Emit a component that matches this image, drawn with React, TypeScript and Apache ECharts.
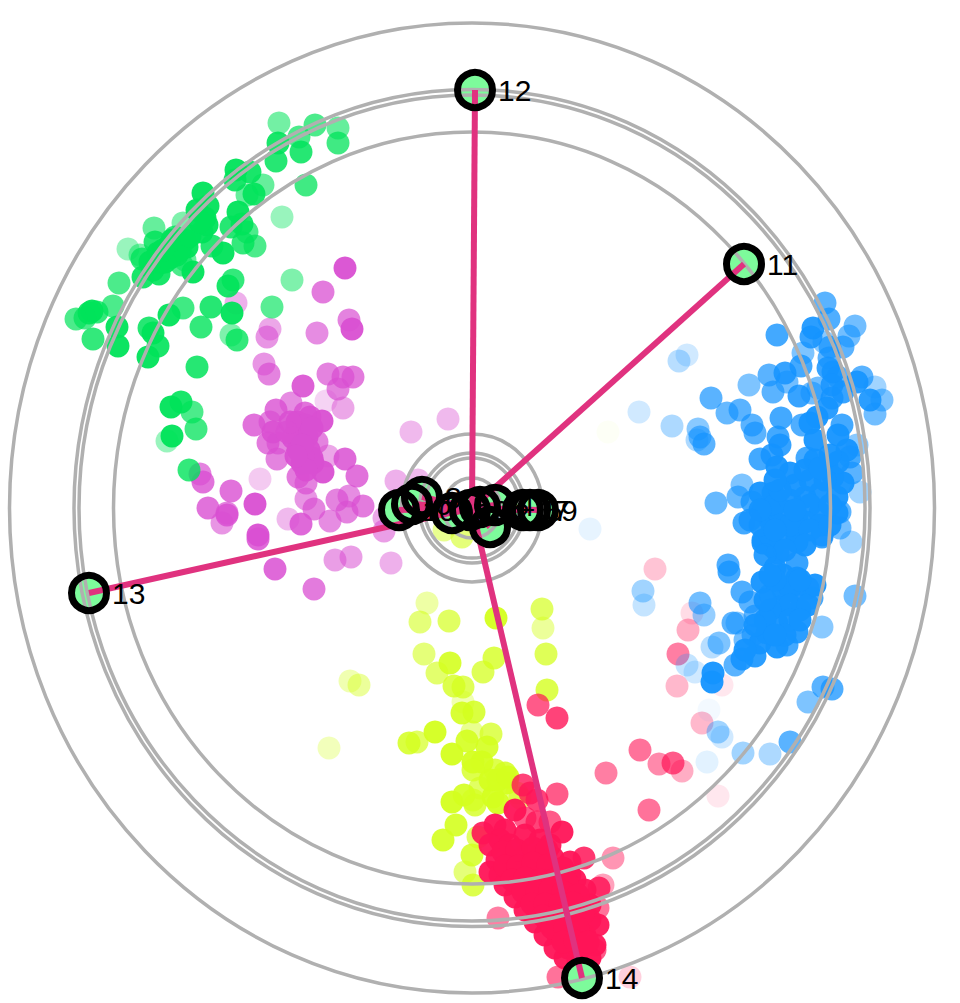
import React, { useEffect, useRef } from "react";
import * as echarts from "echarts";

type P = [number, number, number];

const greenPoints: P[] = [
[279,123,.55],[315,125,.7],[338,128,.6],[338,143,.75],[278,143,.9],[299,137,.7],[301,152,.85],[276,161,.85],[236,170,.95],[250,172,.9],[235,180,.9],[263,185,.6],[254,194,.9],[247,195,.6],[306,185,.75],[282,217,.4],[203,193,.95],[208,206,.95],[197,210,.95],[238,212,.95],[207,225,.95],[202,232,.95],[242,224,.9],[231,227,.85],[247,232,.7],[243,243,.8],[255,246,.7],[212,246,.85],[223,253,.95],[183,223,.5],[154,228,.6],[175,237,.8],[185,240,.95],[155,242,.85],[168,247,.95],[187,247,.95],[128,249,.4],[140,255,.5],[142,259,.8],[158,253,.95],[177,255,.9],[185,260,.6],[160,263,.95],[193,272,.95],[182,265,.7],[143,277,.9],[159,274,.9],[153,270,.95],[119,283,.7],[233,280,.8],[228,286,.9],[211,307,.85],[183,308,.75],[169,315,.95],[113,306,.7],[92,311,.95],[97,312,.8],[89,313,.9],[76,319,.7],[85,318,.7],[93,339,.8],[117,327,.95],[118,346,.95],[149,328,.85],[153,333,.95],[158,346,.9],[148,357,.95],[232,313,.95],[201,327,.8],[231,335,.5],[237,340,.8],[272,307,.65],[292,280,.5],[197,367,.85],[181,402,.9],[171,407,.95],[192,412,.7],[196,429,.75],[172,436,.95],[167,441,.4],[189,470,.8],
[178,246,.95],[170,258,.95],[180,250,.95],[165,262,.95],[205,218,.95],[172,240,.95],[163,250,.95],[150,262,.95],[190,236,.95],[200,222,.95],
];

const magentaPoints: P[] = [
[345,268,.95],[323,292,.75],[236,303,.45],[270,329,.5],[267,337,.6],[317,333,.65],[349,320,.7],[352,329,.95],[264,364,.6],[269,374,.7],[328,374,.7],[343,377,.75],[353,377,.75],[338,389,.7],[303,386,.9],[326,401,.25],[343,408,.5],[291,403,.65],[276,410,.8],[254,425,.8],[270,422,.7],[310,417,.9],[322,421,.95],[297,422,.95],[305,413,.8],[273,432,.9],[268,443,.75],[278,443,.7],[277,459,.7],[297,430,.95],[307,437,.95],[317,442,.7],[298,450,.95],[309,450,.95],[328,456,.5],[345,459,.85],[302,463,.95],[313,463,.95],[323,472,.95],[357,476,.8],[298,477,.75],[306,483,.7],[260,479,.3],[396,481,.45],[418,480,.4],[200,474,.7],[203,482,.8],[231,491,.8],[208,508,.8],[227,515,.85],[227,513,.7],[222,523,.6],[255,504,.95],[306,499,.6],[314,509,.7],[288,519,.4],[301,524,.85],[330,521,.65],[337,500,.7],[349,496,.65],[347,512,.7],[363,506,.75],[258,535,.95],[258,539,.85],[384,531,.55],[384,518,.5],[275,569,.85],[335,560,.55],[351,557,.55],[391,563,.45],[314,589,.75],[411,432,.4],[448,419,.4],[425,490,.4],
[300,438,.95],[305,425,.95],[293,438,.95],[312,458,.95],[303,456,.95],[287,432,.8],[312,428,.95],[290,422,.9],[302,445,.95],[306,470,.95],[296,456,.95],
];

const bluePoints: P[] = [
[825,303,.7],[829,319,.75],[855,326,.6],[813,328,.9],[811,337,.85],[824,342,.5],[777,335,.8],[849,336,.6],[843,347,.7],[830,347,.75],[803,353,.55],[801,366,.8],[687,355,.2],[679,361,.3],[829,358,.7],[828,368,.85],[833,372,.9],[838,377,.7],[862,377,.7],[857,382,.9],[769,375,.7],[785,373,.85],[787,382,.6],[749,385,.55],[773,392,.7],[799,396,.85],[812,393,.6],[818,388,.6],[832,385,.85],[843,392,.85],[875,387,.4],[870,400,.9],[882,400,.55],[875,414,.6],[711,398,.7],[740,410,.7],[727,413,.65],[639,412,.2],[672,426,.35],[781,418,.8],[827,408,.9],[817,417,.95],[832,398,.85],[752,425,.7],[755,433,.7],[698,429,.5],[697,440,.35],[700,437,.6],[704,444,.7],[802,425,.75],[810,423,.95],[842,425,.8],[838,435,.95],[778,437,.8],[780,445,.85],[815,440,.95],[857,445,.5],[760,459,.8],[772,455,.85],[807,458,.8],[847,450,.95],[827,467,.95],[850,457,.8],[852,473,.7],[777,467,.95],[790,473,.95],[833,477,.95],[742,485,.55],[738,497,.65],[716,503,.65],[752,502,.8],[860,492,.4],[760,493,.95],[773,493,.95],[763,510,.95],[783,510,.95],[805,497,.95],[820,493,.95],[837,497,.95],[843,483,.95],[820,513,.95],[837,513,.95],[840,512,.7],[744,523,.8],[770,520,.95],[797,517,.95],[840,528,.6],[822,535,.85],[851,542,.4],[763,540,.95],[787,537,.95],[797,537,.95],[773,547,.95],[763,543,.95],[797,542,.95],[822,537,.85],[778,553,.9],[728,565,.75],[729,572,.8],[643,591,.4],[644,605,.25],[797,563,.85],[775,568,.95],[762,582,.95],[742,592,.75],[750,602,.7],[783,575,.95],[797,578,.95],[808,588,.85],[812,598,.8],[770,595,.8],[783,590,.95],[797,593,.95],[780,607,.95],[800,610,.95],[755,616,.7],[700,603,.6],[704,615,.45],[733,623,.7],[737,623,.5],[777,623,.95],[797,632,.9],[822,627,.5],[855,596,.6],[753,635,.7],[745,640,.6],[760,643,.95],[777,647,.95],[787,645,.8],[767,633,.95],[742,659,.9],[735,665,.7],[755,656,.9],[719,643,.55],[712,647,.3],[687,665,.25],[695,672,.2],[713,673,.95],[712,682,.95],[823,687,.7],[832,689,.75],[808,702,.55],[790,742,.7],[770,754,.35],[743,753,.4],[718,732,.4],[722,737,.2],[707,762,.12],[709,710,.05],[590,529,.1],
[775,505,.95],[790,500,.95],[795,485,.95],[810,480,.95],[825,480,.95],[810,505,.95],[805,522,.95],[820,525,.95],[780,525,.95],[770,535,.95],[790,525,.95],[815,460,.95],[838,462,.95],[790,588,.95],[775,580,.95],[790,605,.95],[770,610,.95],[790,620,.95],[765,620,.95],[785,635,.95],[808,605,.95],[805,470,.95],[820,468,.95],[780,490,.95],[760,525,.95],[775,530,.95],[795,510,.95],[810,530,.95],[830,525,.95],[830,505,.95],[805,545,.95],[785,550,.95],[765,555,.9],[770,575,.95],[765,600,.95],[755,625,.95],[775,635,.95],[800,620,.95],[815,585,.95],[760,510,.95],[750,520,.85],[775,480,.95],[830,455,.95],[800,580,.95],[745,650,.95],
];

const yellowPoints: P[] = [
[427,603,.4],[420,622,.6],[449,621,.7],[496,618,.95],[542,609,.7],[543,628,.45],[546,654,.75],[424,654,.6],[437,673,.65],[450,663,.9],[494,658,.8],[483,672,.75],[454,686,.8],[463,687,.75],[350,681,.35],[359,685,.45],[547,690,.8],[463,702,.35],[462,713,.9],[474,712,.85],[472,732,.5],[491,734,.75],[435,732,.95],[409,743,.85],[417,742,.7],[329,748,.3],[467,741,.9],[487,747,.9],[452,754,.95],[473,762,.95],[482,762,.95],[495,770,.8],[505,773,.85],[490,780,.95],[507,783,.95],[480,788,.7],[464,795,.9],[452,802,.95],[517,793,.6],[493,797,.95],[473,800,.7],[456,825,.9],[443,840,.9],[475,805,.8],[498,803,.95],[478,837,.7],[472,855,.85],[465,872,.6],[473,885,.8],[520,798,.6],[498,780,.9],[508,777,.95],[473,770,.8],[444,530,.5],[462,537,.6],[608,432,.04],
];

const redPoints: P[] = [
[655,569,.25],[688,630,.35],[692,613,.15],[678,654,.55],[677,686,.3],[722,685,.1],[702,723,.3],[640,750,.6],[659,764,.5],[673,763,.7],[682,771,.35],[718,796,.1],[649,810,.6],[557,794,.7],[606,773,.55],[613,858,.45],[584,858,.85],[562,832,.95],[599,888,.85],[603,885,.4],[598,908,.6],[498,918,.55],[558,977,.6],[630,977,.2],[538,705,.7],[557,718,.8],
[523,785,.8],[530,793,.8],[537,800,.8],[515,810,.95],[525,818,.7],[537,822,.8],[550,822,.7],[483,833,.9],[495,825,.95],[505,830,.95],[500,840,.95],[490,845,.95],[510,845,.95],[525,835,.95],[540,840,.95],[550,845,.95],[490,872,.95],[497,860,.95],[510,860,.95],[525,855,.95],[540,855,.95],[553,858,.95],[570,862,.95],[500,875,.95],[513,872,.95],[527,870,.95],[540,872,.95],[555,872,.95],[570,875,.95],[505,885,.95],[518,885,.95],[532,885,.95],[546,885,.95],[560,885,.95],[575,880,.95],[515,897,.95],[528,897,.95],[542,897,.95],[556,897,.95],[570,895,.95],[585,890,.95],[525,910,.95],[538,910,.95],[552,910,.95],[566,910,.95],[580,908,.95],[590,905,.95],[535,922,.95],[548,922,.95],[562,922,.95],[575,920,.95],[590,920,.95],[545,935,.95],[558,935,.95],[570,935,.95],[585,935,.95],[598,925,.95],[555,948,.95],[568,948,.95],[580,948,.95],[595,945,.95],[565,958,.95],[578,960,.95],[590,958,.95],[595,950,.7],
[503,852,.95],[517,850,.95],[533,848,.95],[547,850,.95],[505,866,.95],[518,866,.95],[533,863,.95],[548,865,.95],[563,868,.95],[512,880,.95],[525,878,.95],[540,880,.95],[553,880,.95],[567,882,.95],[523,892,.95],[537,892,.95],[550,890,.95],[563,892,.95],[578,895,.95],[532,904,.95],[545,904,.95],[560,904,.95],[573,903,.95],[543,916,.95],[556,916,.95],[570,915,.95],[583,914,.95],[552,928,.95],[565,928,.95],[578,928,.95],[563,942,.95],[575,941,.95],[588,942,.95],
];

const hubPoint = [472, 508];
const ringRadii = [[462.5,485],[398,418.5],[393,413],[358.5,376],[70.5,74],[52.5,55],[47.5,50],[28.6,30]];
const nodeNames = ["0","1","2","3","4","5","6","7","8","9","10","11","12","13","14"];
const nodePoints = [[470,510],[480,507],[490,527],[452,513],[495,505],[523,510],[412,504],[530,510],[422,497],[538,510],[399,510],[744,264],[475,90],[89,593],[582,978]];
const nodeLabelShiftY = [0,0,-14,0,0,0,0,0,0,0,0,0,0,0,0];

const pointColors = { yellow: "#d4ff1f", red: "#ff1457", magenta: "#d94fd2", blue: "#1493ff", green: "#00e35a" };

const cloud = (name: string, data: P[], color: string) => ({
  type: "scatter", name, symbolSize: 23, z: 1, silent: true,
  data: data.map(([x, y, o]) => ({ value: [x, y], itemStyle: { color, opacity: o } })),
});

export default function App() {
  const ref = useRef<HTMLDivElement>(null);
  useEffect(() => {
    const chart = echarts.init(ref.current!, undefined, { renderer: "svg" });
    const spokes = nodePoints.map((p) => ({
      type: "line", z: 5, symbol: "none", silent: true,
      data: [hubPoint, p],
      lineStyle: { color: "#e0327f", width: 6 },
    }));
    chart.setOption({
      animation: false,
      backgroundColor: "#ffffff",
      grid: { left: 0, right: 0, top: 0, bottom: 0 },
      xAxis: { type: "value", min: 0, max: 960, show: false },
      yAxis: { type: "value", min: 0, max: 1003, inverse: true, show: false },
      series: [
        cloud("yellow", yellowPoints, pointColors.yellow),
        cloud("red", redPoints, pointColors.red),
        cloud("magenta", magentaPoints, pointColors.magenta),
        cloud("blue", bluePoints, pointColors.blue),
        cloud("green", greenPoints, pointColors.green),
        {
          type: "scatter", z: 2, symbolSize: 35, silent: true,
          itemStyle: { color: "#7dfb9b", opacity: 1 },
          data: nodePoints,
        },
        {
          type: "custom", z: 3, silent: true, coordinateSystem: "cartesian2d",
          data: ringRadii,
          renderItem: (_p: any, api: any) => {
            const c = api.coord(hubPoint);
            const e = api.coord([hubPoint[0] + api.value(0), hubPoint[1] + api.value(1)]);
            return {
              type: "ellipse",
              shape: { cx: c[0], cy: c[1], rx: Math.abs(e[0] - c[0]), ry: Math.abs(e[1] - c[1]) },
              style: { fill: "none", stroke: "#b0b0b0", lineWidth: 3.5 },
            };
          },
          encode: { x: 0, y: 1 },
        },
        ...spokes,
        {
          type: "scatter", z: 6, symbolSize: 35, silent: true,
          itemStyle: { color: "rgba(0,0,0,0)", borderColor: "#000000", borderWidth: 7, opacity: 1 },
          label: {
            show: true, position: "right", distance: 2, color: "#000000",
            fontFamily: "Liberation Sans", fontSize: 30,
            formatter: (p: any) => nodeNames[p.dataIndex],
          },
          labelLayout: (p: any) => ({ hideOverlap: false, dy: nodeLabelShiftY[p.dataIndex] }),
          data: nodePoints,
        },
      ],
    });
    return () => chart.dispose();
  }, []);
  return <div ref={ref} style={{ position: "absolute", left: 0, top: 0, width: 960, height: 1003 }} />;
}
